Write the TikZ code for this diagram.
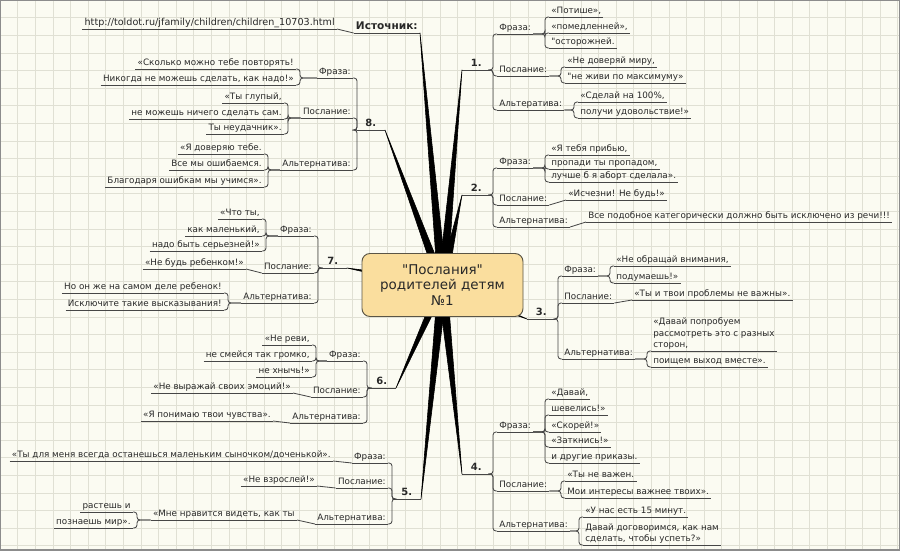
\documentclass[tikz,border=0pt]{standalone}
\usepackage{fontspec}
\setmainfont{DejaVu Sans}[Ligatures=TeXOff]
\usepackage{tikz}
\usetikzlibrary{calc,
                positioning}
\definecolor{paper}{RGB}{251,251,242}
\definecolor{gridclr}{RGB}{224,224,212}
\definecolor{wire}{RGB}{70,70,70}
\definecolor{ink}{RGB}{40,40,40}
\definecolor{corefill}{RGB}{250,222,158}
\definecolor{coreline}{RGB}{90,85,70}
\definecolor{frameclr}{RGB}{140,140,140}
\tikzset{
        txt/.style={font=\fontsize{7.5}{10}\selectfont, text=ink},
        uline/.style={draw=wire, line width=0.7pt},
        leaf/.style={txt, inner xsep=1.8pt, inner ysep=1pt, text depth=1.5pt,
                     align=left,
                     append after command={(\tikzlastnode.south west)
                       edge[uline] (\tikzlastnode.south east)}},
        rleaf/.style={leaf, anchor=south west},
        lleaf/.style={leaf, anchor=south east, align=right},
        num/.style={leaf, font=\fontsize{8.5}{10}\selectfont\bfseries,
                    minimum width=0.84cm},
        conn/.style={draw=wire, line width=0.7pt, rounded corners=2.5pt},
        rbr/.style={to path={-| ([xshift=-1.2mm]\tikztotarget.south west)
                     -- (\tikztotarget.south west)}},
        lbr/.style={to path={-| ([xshift=1.2mm]\tikztotarget.south east)
                     -- (\tikztotarget.south east)}},
        trunk/.style={fill=black, draw=black, line width=0.5pt, line join=round},
        core/.style={rectangle, rounded corners=2.4mm, fill=corefill,
                     draw=coreline, line width=0.8pt, minimum width=4.83cm,
                     minimum height=1.89cm, align=center, text=ink,
                     font=\fontsize{11.5}{13}\selectfont},
}

\begin{document}
\begin{tikzpicture}[x=0.03cm, y=-0.03cm]
    \useasboundingbox (0,0) rectangle (900,550);
    \fill[paper] (0,0) rectangle (900,550);
    \draw[gridclr, line width=0.5pt, xstep=0.528cm, ystep=0.528cm] (0,0) grid (900,550);
    \draw[frameclr, line width=1.5pt] (0,0) rectangle (900,550);

    \coordinate (hub) at (442.5,285);

    % source
    \node[lleaf, font=\fontsize{9}{10}\selectfont\bfseries] (src) at (420,33) {Источник:};
    \node[lleaf, font=\fontsize{8.2}{10}\selectfont] (url) at (337,29) {http://toldot.ru/jfamily/children/children\_10703.html};
    \draw[conn] (src.south west) -- (url.south east);

    % 1.
    \node[num, anchor=south west] (n1) at (462,70) {1.};
    \node[rleaf] (fr1) at (497,34) {Фраза:};
    \node[rleaf] (po1) at (497,76) {Послание:};
    \node[rleaf] (al1) at (497,110) {Альтератива:};
    \node[rleaf] (fr1_1) at (549,17) {«Потише»,};
    \node[rleaf] (fr1_2) at (549,33) {«помедленней»,};
    \node[rleaf] (fr1_3) at (549,48) {"осторожней.};
    \node[rleaf] (po1_1) at (565,67) {«Не доверяй миру,};
    \node[rleaf] (po1_2) at (565,83) {"не живи по максимуму»};
    \node[rleaf] (al1_1) at (578,102) {«Сделай на 100\%,};
    \node[rleaf] (al1_2) at (578,118) {получи удовольствие!»};
    \draw[conn] (n1.south east) edge[rbr] (fr1) edge[rbr] (po1) edge[rbr] (al1);
    \draw[conn] (fr1.south east) edge[rbr] (fr1_1) edge[rbr] (fr1_2) edge[rbr] (fr1_3);
    \draw[conn] (po1.south east) edge[rbr] (po1_1) edge[rbr] (po1_2);
    \draw[conn] (al1.south east) edge[rbr] (al1_1) edge[rbr] (al1_2);

    % 2.
    \node[num, anchor=south west] (n2) at (462,195) {2.};
    \node[rleaf] (fr2) at (497,168) {Фраза:};
    \node[rleaf] (po2) at (497,205) {Послание:};
    \node[rleaf] (al2) at (497,227) {Альтернатива:};
    \node[rleaf] (fr2_1) at (549,155) {«Я тебя прибью,};
    \node[rleaf] (fr2_2) at (549,169) {пропади ты пропадом,};
    \node[rleaf] (fr2_3) at (549,182) {лучше б я аборт сделала».};
    \node[rleaf] (po2_1) at (566,200) {«Исчезни! Не будь!»};
    \node[rleaf] (al2_1) at (586,222) {Все подобное категорически должно быть исключено из речи!!!};
    \draw[conn] (n2.south east) edge[rbr] (fr2) edge[rbr] (po2) edge[rbr] (al2);
    \draw[conn] (fr2.south east) edge[rbr] (fr2_1) edge[rbr] (fr2_2) edge[rbr] (fr2_3);
    \draw[conn] (po2.south east) -- (po2_1.south west);
    \draw[conn] (al2.south east) -- (al2_1.south west);

    % 3.
    \node[num, anchor=south west] (n3) at (527,319) {3.};
    \node[rleaf] (fr3) at (562,276) {Фраза:};
    \node[rleaf] (po3) at (562,303) {Послание:};
    \node[rleaf] (al3) at (562,359) {Альтернатива:};
    \node[rleaf] (fr3_1) at (614,266) {«Не обращай внимания,};
    \node[rleaf] (fr3_2) at (614,283) {подумаешь!»};
    \node[rleaf] (po3_1) at (632,300) {«Ты и твои проблемы не важны».};
    \node[rleaf] (al3_1) at (651,351) {«Давай попробуем\\рассмотреть это с разных\\сторон,};
    \node[rleaf] (al3_2) at (651,367) {поищем выход вместе».};
    \draw[conn] (n3.south east) edge[rbr] (fr3) edge[rbr] (po3) edge[rbr] (al3);
    \draw[conn] (fr3.south east) edge[rbr] (fr3_1) edge[rbr] (fr3_2);
    \draw[conn] (po3.south east) -- (po3_1.south west);
    \draw[conn] (al3.south east) edge[rbr] (al3_1) edge[rbr] (al3_2);

    % 4.
    \node[num, anchor=south west] (n4) at (462,474) {4.};
    \node[rleaf] (fr4) at (497,432) {Фраза:};
    \node[rleaf] (po4) at (497,491) {Послание:};
    \node[rleaf] (al4) at (497,531) {Альтернатива:};
    \node[rleaf] (fr4_1) at (549,399) {«Давай,};
    \node[rleaf] (fr4_2) at (549,415) {шевелись!»};
    \node[rleaf] (fr4_3) at (549,432) {«Скорей!»};
    \node[rleaf] (fr4_4) at (549,447) {«Заткнись!»};
    \node[rleaf] (fr4_5) at (549,463) {и другие приказы.};
    \node[rleaf] (po4_1) at (565,481) {«Ты не важен.};
    \node[rleaf] (po4_2) at (565,498) {Мои интересы важнее твоих».};
    \node[rleaf] (al4_1) at (583,517) {«У нас есть 15 минут.};
    \node[rleaf] (al4_2) at (583,545) {Давай договоримся, как нам\\сделать, чтобы успеть?»};
    \draw[conn] (n4.south east) edge[rbr] (fr4) edge[rbr] (po4) edge[rbr] (al4);
    \draw[conn] (fr4.south east) edge[rbr] (fr4_1) edge[rbr] (fr4_2) edge[rbr] (fr4_3)
                edge[rbr] (fr4_4) edge[rbr] (fr4_5);
    \draw[conn] (po4.south east) edge[rbr] (po4_1) edge[rbr] (po4_2);
    \draw[conn] (al4.south east) edge[rbr] (al4_1) edge[rbr] (al4_2);

    % 5.
    \node[num, anchor=south east] (n5) at (421,499) {5.};
    \node[lleaf] (fr5) at (388,463) {Фраза:};
    \node[lleaf] (po5) at (388,488) {Послание:};
    \node[lleaf] (al5) at (388,524) {Альтернатива:};
    \node[lleaf] (fr5_1) at (333,461) {«Ты для меня всегда останешься маленьким сыночком/доченькой».};
    \node[lleaf] (po5_1) at (317,486) {«Не взрослей!»};
    \node[lleaf] (al5_1) at (297,520) {«Мне нравится видеть, как ты};
    \node[lleaf] (al5_1a) at (133,512) {растешь и};
    \node[lleaf] (al5_1b) at (133,528) {познаешь мир».};
    \draw[conn] (n5.south west) edge[lbr] (fr5) edge[lbr] (po5) edge[lbr] (al5);
    \draw[conn] (fr5.south west) -- (fr5_1.south east);
    \draw[conn] (po5.south west) -- (po5_1.south east);
    \draw[conn] (al5.south west) -- (al5_1.south east);
    \draw[conn] (al5_1.south west) edge[lbr] (al5_1a) edge[lbr] (al5_1b);

    % 6.
    \node[num, anchor=south east] (n6) at (396,388) {6.};
    \node[lleaf] (fr6) at (363,361) {Фраза:};
    \node[lleaf] (po6) at (363,397) {Послание:};
    \node[lleaf] (al6) at (363,423) {Альтернатива:};
    \node[lleaf] (fr6_1) at (312,345) {«Не реви,};
    \node[lleaf] (fr6_2) at (312,361) {не смейся так громко,};
    \node[lleaf] (fr6_3) at (312,377) {не хнычь!»};
    \node[lleaf] (po6_1) at (293,393) {«Не выражай своих эмоций!»};
    \node[lleaf] (al6_1) at (273,421) {«Я понимаю твои чувства».};
    \draw[conn] (n6.south west) edge[lbr] (fr6) edge[lbr] (po6) edge[lbr] (al6);
    \draw[conn] (fr6.south west) edge[lbr] (fr6_1) edge[lbr] (fr6_2) edge[lbr] (fr6_3);
    \draw[conn] (po6.south west) -- (po6_1.south east);
    \draw[conn] (al6.south west) -- (al6_1.south east);

    % 7.
    \node[num, anchor=south east] (n7) at (347,268) {7.};
    \node[lleaf] (fr7) at (314,236) {Фраза:};
    \node[lleaf] (po7) at (314,273) {Послание:};
    \node[lleaf] (al7) at (314,303) {Альтернатива:};
    \node[lleaf] (fr7_1) at (262,219) {«Что ты,};
    \node[lleaf] (fr7_2) at (262,236) {как маленький,};
    \node[lleaf] (fr7_3) at (262,251) {надо быть серьезней!»};
    \node[lleaf] (po7_1) at (246,269) {«Не будь ребенком!»};
    \node[lleaf] (al7_1) at (224,293) {Но он же на самом деле ребенок!};
    \node[lleaf] (al7_2) at (224,310) {Исключите такие высказывания!};
    \draw[conn] (n7.south west) edge[lbr] (fr7) edge[lbr] (po7) edge[lbr] (al7);
    \draw[conn] (fr7.south west) edge[lbr] (fr7_1) edge[lbr] (fr7_2) edge[lbr] (fr7_3);
    \draw[conn] (po7.south west) -- (po7_1.south east);
    \draw[conn] (al7.south west) edge[lbr] (al7_1) edge[lbr] (al7_2);

    % 8.
    \node[num, anchor=south east] (n8) at (385,130) {8.};
    \node[lleaf] (fr8) at (353,78) {Фраза:};
    \node[lleaf] (po8) at (353,118) {Послание:};
    \node[lleaf] (al8) at (353,170) {Альтернатива:};
    \node[lleaf] (fr8_1) at (296,69) {«Сколько можно тебе повторять!};
    \node[lleaf] (fr8_2) at (296,85) {Никогда не можешь сделать, как надо!»};
    \node[lleaf] (po8_1) at (284,103) {«Ты глупый,};
    \node[lleaf] (po8_2) at (284,119) {не можешь ничего сделать сам.};
    \node[lleaf] (po8_3) at (284,134) {Ты неудачник».};
    \node[lleaf] (al8_1) at (264,154) {«Я доверяю тебе.};
    \node[lleaf] (al8_2) at (264,170) {Все мы ошибаемся.};
    \node[lleaf] (al8_3) at (264,187) {Благодаря ошибкам мы учимся».};
    \draw[conn] (n8.south west) edge[lbr] (fr8) edge[lbr] (po8) edge[lbr] (al8);
    \draw[conn] (fr8.south west) edge[lbr] (fr8_1) edge[lbr] (fr8_2);
    \draw[conn] (po8.south west) edge[lbr] (po8_1) edge[lbr] (po8_2) edge[lbr] (po8_3);
    \draw[conn] (al8.south west) edge[lbr] (al8_1) edge[lbr] (al8_2) edge[lbr] (al8_3);

    % thick branches from the centre
    \fill[trunk] ([xshift=-4pt]hub) -- (src.south east) -- ([xshift=4pt]hub) -- cycle;
    \fill[trunk] ([xshift=-4pt]hub) -- (n1.south west) -- ([xshift=4pt]hub) -- cycle;
    \fill[trunk] ([xshift=-4pt]hub) -- (n2.south west) -- ([xshift=4pt]hub) -- cycle;
    \fill[trunk] ([yshift=-4pt]hub) -- (n3.south west) -- ([yshift=4pt]hub) -- cycle;
    \fill[trunk] ([xshift=-4pt]hub) -- (n4.south west) -- ([xshift=4pt]hub) -- cycle;
    \fill[trunk] ([xshift=-4pt]hub) -- (n5.south east) -- ([xshift=4pt]hub) -- cycle;
    \fill[trunk] ([xshift=-4pt]hub) -- (n6.south east) -- ([xshift=4pt]hub) -- cycle;
    \fill[trunk] ([yshift=-4pt]hub) -- (n7.south east) -- ([yshift=4pt]hub) -- cycle;
    \fill[trunk] ([xshift=-4pt]hub) -- (n8.south east) -- ([xshift=4pt]hub) -- cycle;

    \node[core] (core) at (hub) {"Послания"\\родителей детям\\№1};
\end{tikzpicture}
\end{document}
